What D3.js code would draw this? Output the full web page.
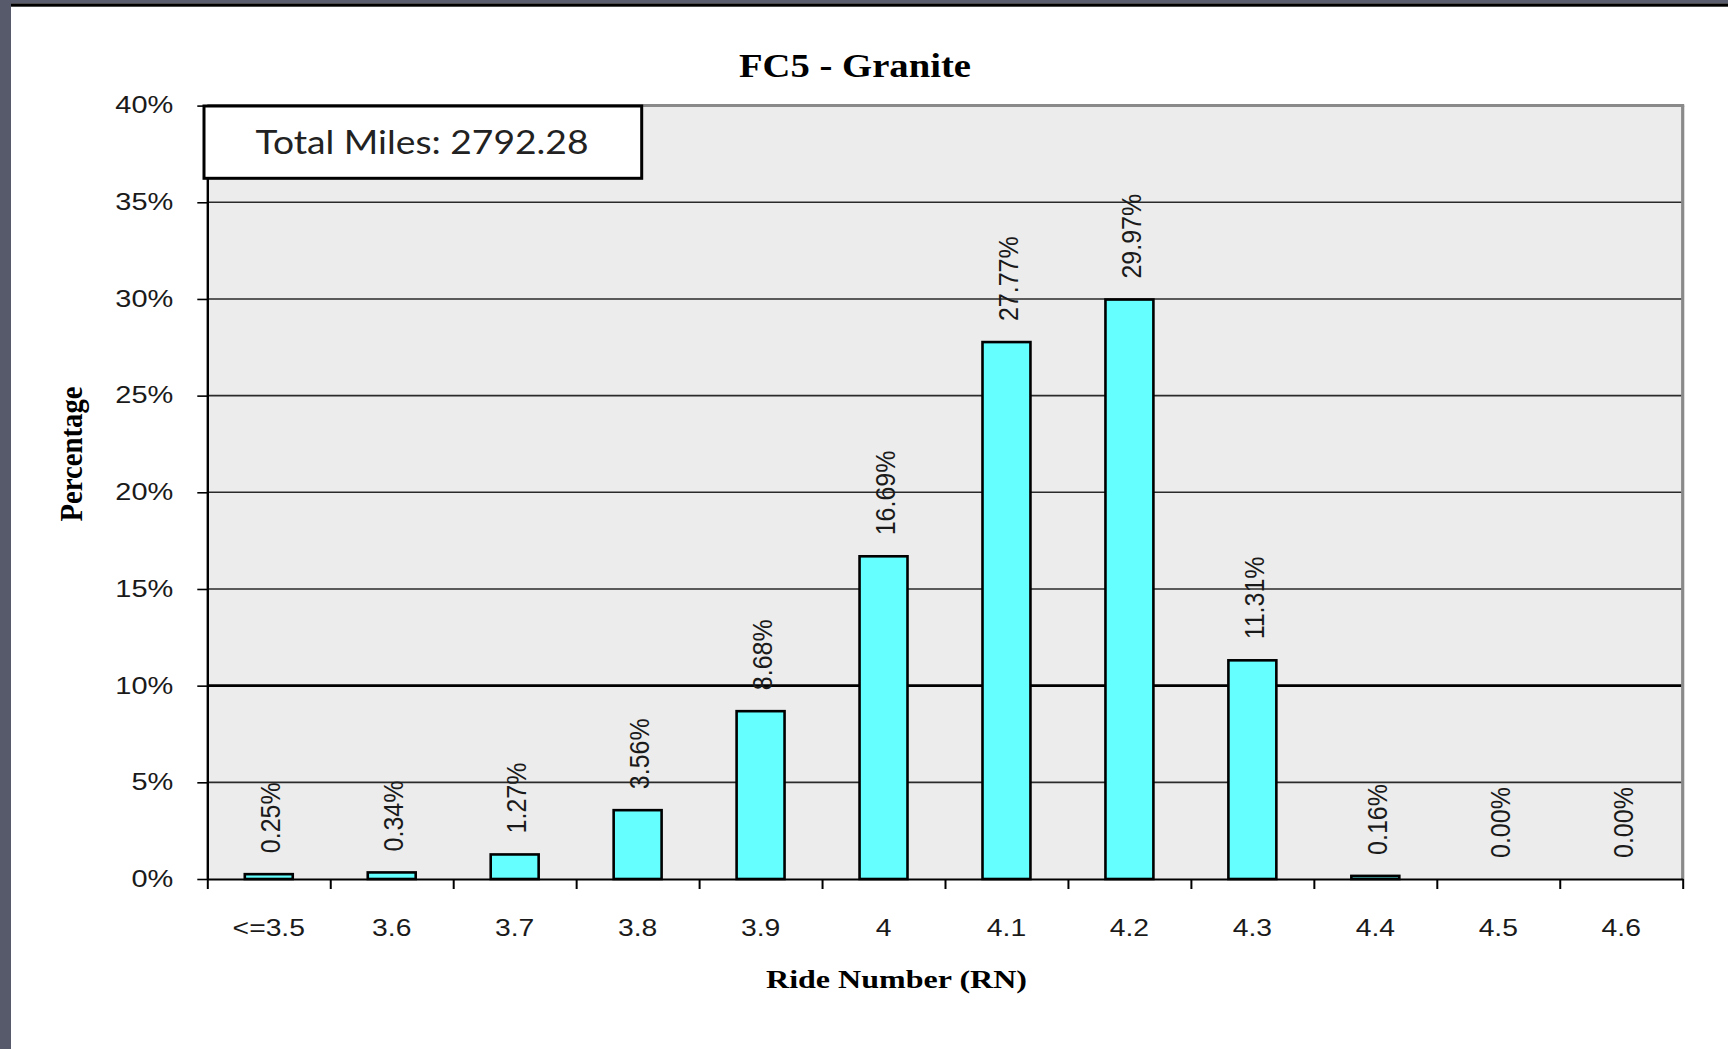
<!DOCTYPE html>
<html>
<head>
<meta charset="utf-8">
<script src="https://cdn.jsdelivr.net/npm/d3@7"></script>
<style>
  html, body { margin: 0; padding: 0; background: #fff; }
  svg { display: block; }
</style>
</head>
<body>
<svg id="chart" width="1728" height="1049"></svg>
<script>
// ---- data ----
const categories = ["<=3.5", "3.6", "3.7", "3.8", "3.9", "4", "4.1", "4.2", "4.3", "4.4", "4.5", "4.6"];
const percentages = [0.25, 0.34, 1.27, 3.56, 8.68, 16.69, 27.77, 29.97, 11.31, 0.16, 0.00, 0.00];
const yTickValues = [0, 5, 10, 15, 20, 25, 30, 35, 40];
const chartTitle = "FC5 - Granite";
const xTitle = "Ride Number (RN)";
const yTitle = "Percentage";
const boxText = "Total Miles: 2792.28";

// ---- layout ----
const svg = d3.select("#chart");
const L = 207.3, R = 1682.7, T = 105.6, B = 879;

const y = d3.scaleLinear().domain([0, 40]).range([B, T]);
const x = d3.scaleBand().domain(categories).range([L, R]).paddingInner(0.61).paddingOuter(0.305);
const xb = d3.scaleLinear().domain([0, categories.length]).range([L, R]);

// slide frame
svg.append("rect").attr("x", 0).attr("y", 0).attr("width", 1728).attr("height", 1049).attr("fill", "#fff");
svg.append("rect").attr("x", 0).attr("y", 0).attr("width", 1728).attr("height", 3.4).attr("fill", "#5a5d6e");
svg.append("rect").attr("x", 11).attr("y", 3.4).attr("width", 1717).attr("height", 3.3).attr("fill", "#000");
svg.append("rect").attr("x", 0).attr("y", 0).attr("width", 11).attr("height", 1049).attr("fill", "#575a6b");

// plot background
svg.append("rect").attr("x", L).attr("y", T).attr("width", R - L).attr("height", B - T).attr("fill", "#ececec");

// gridlines
svg.append("g").selectAll("line")
  .data(yTickValues.filter(d => d > 0 && d < 40))
  .join("line")
  .attr("x1", L).attr("x2", R)
  .attr("y1", d => y(d)).attr("y2", d => y(d))
  .attr("stroke", d => d === 10 ? "#000" : "#2a2a2a")
  .attr("stroke-width", d => d === 10 ? 2.6 : 1.6);

// top and right border (gray)
svg.append("line").attr("x1", L).attr("x2", R + 1.5).attr("y1", y(40)).attr("y2", y(40))
  .attr("stroke", "#8a8a8a").attr("stroke-width", 3);
svg.append("line").attr("x1", R).attr("x2", R).attr("y1", y(40)).attr("y2", B)
  .attr("stroke", "#8a8a8a").attr("stroke-width", 3.2);

// bars
svg.append("g").selectAll("rect")
  .data(categories.map((c, i) => ({c, v: percentages[i]})).filter(d => d.v > 0))
  .join("rect")
  .attr("x", d => x(d.c))
  .attr("width", x.bandwidth())
  .attr("y", d => y(d.v))
  .attr("height", d => y(0) - y(d.v))
  .attr("fill", "#66ffff")
  .attr("stroke", "#000")
  .attr("stroke-width", 2.6);

// y axis
const sY = 1.26;
const yAxis = svg.append("g").attr("transform", `translate(${L},0)`)
  .call(d3.axisLeft(y).tickValues(yTickValues).tickSize(10).tickSizeOuter(0).tickPadding(24).tickFormat(d => d + "%"));
yAxis.select(".domain").attr("stroke", "#000").attr("stroke-width", 2.4);
yAxis.selectAll(".tick line").attr("stroke", "#000").attr("stroke-width", 1.6);
yAxis.selectAll(".tick text")
  .attr("font-family", "'Liberation Sans', Arial, sans-serif")
  .attr("font-size", 23).attr("fill", "#1a1a1a")
  .attr("x", -34 / sY)
  .attr("transform", `scale(${sY},1)`);

// x boundary ticks
const xbAxis = svg.append("g").attr("transform", `translate(0,${B})`)
  .call(d3.axisBottom(xb).tickValues(d3.range(categories.length + 1)).tickSize(10).tickSizeOuter(0).tickFormat(""));
xbAxis.select(".domain").attr("stroke", "#000").attr("stroke-width", 2.2);
xbAxis.selectAll(".tick line").attr("stroke", "#000").attr("stroke-width", 2);

// x category labels
const sX = 1.23;
const xAxis = svg.append("g").attr("transform", `translate(0,${B})`)
  .call(d3.axisBottom(x).tickSize(0).tickPadding(41));
xAxis.select(".domain").remove();
xAxis.selectAll(".tick text")
  .attr("font-family", "'Liberation Sans', Arial, sans-serif")
  .attr("font-size", 23).attr("fill", "#1a1a1a")
  .attr("transform", `scale(${sX},1)`);

// value labels (rotated)
svg.append("g").selectAll("text")
  .data(categories.map((c, i) => ({c, v: percentages[i]})))
  .join("text")
  .attr("transform", d => `translate(${x(d.c) + x.bandwidth() / 2 + 11.5},${y(d.v) - 21}) scale(1.12,1) rotate(-90)`)
  .attr("text-anchor", "start")
  .attr("font-family", "'Liberation Sans', Arial, sans-serif")
  .attr("font-size", 25).attr("fill", "#1a1a1a")
  .text(d => d.v.toFixed(2) + "%");

// total miles box
svg.append("rect").attr("x", 204).attr("y", 106).attr("width", 437.7).attr("height", 72.3)
  .attr("fill", "#fff").attr("stroke", "#000").attr("stroke-width", 3);
svg.append("text").attr("x", 422).attr("y", 154.3).attr("text-anchor", "middle")
  .attr("font-family", "Lato, 'Open Sans', sans-serif").attr("font-size", 33).attr("fill", "#222")
  .attr("textLength", 333).attr("lengthAdjust", "spacingAndGlyphs")
  .text(boxText);

// titles
svg.append("text").attr("x", 855).attr("y", 76.7).attr("text-anchor", "middle")
  .attr("font-family", "'Liberation Serif', 'Times New Roman', serif").attr("font-weight", "bold")
  .attr("font-size", 34).attr("fill", "#000")
  .attr("textLength", 232).attr("lengthAdjust", "spacingAndGlyphs")
  .text(chartTitle);

svg.append("text").attr("x", 896.5).attr("y", 988.3).attr("text-anchor", "middle")
  .attr("font-family", "'Liberation Serif', 'Times New Roman', serif").attr("font-weight", "bold")
  .attr("font-size", 25).attr("fill", "#000")
  .attr("textLength", 261).attr("lengthAdjust", "spacingAndGlyphs")
  .text(xTitle);

svg.append("text")
  .attr("transform", "translate(82,454) scale(1.2,1) rotate(-90)")
  .attr("text-anchor", "middle")
  .attr("font-family", "'Liberation Serif', 'Times New Roman', serif").attr("font-weight", "bold")
  .attr("font-size", 27).attr("fill", "#000")
  .attr("textLength", 135).attr("lengthAdjust", "spacingAndGlyphs")
  .text(yTitle);
</script>
</body>
</html>
